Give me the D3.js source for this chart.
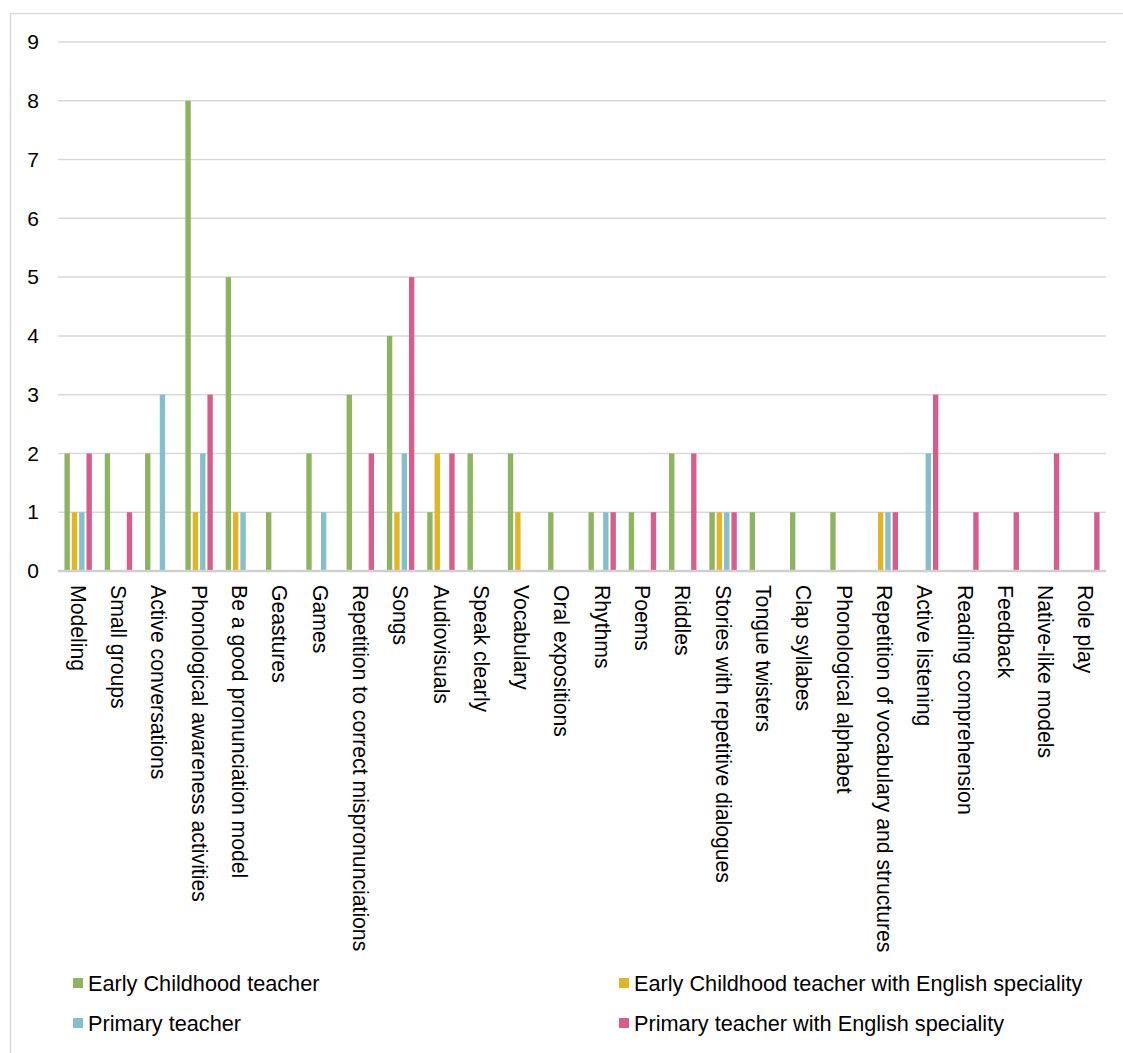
<!DOCTYPE html>
<html>
<head>
<meta charset="utf-8">
<script src="https://cdn.jsdelivr.net/npm/d3@7"></script>
<style>
  html, body { margin: 0; padding: 0; background: #fff; }
  svg { display: block; font-family: "Liberation Sans", Arial, sans-serif; }
</style>
</head>
<body>
<svg id="chart" width="1123" height="1053"></svg>
<script>
// Strategies mentioned by each teacher profile
const categories = [
  "Modeling", "Small groups", "Active conversations", "Phonological awareness activities",
  "Be a good pronunciation model", "Geastures", "Games", "Repetition to correct mispronunciations",
  "Songs", "Audiovisuals", "Speak clearly", "Vocabulary", "Oral expositions", "Rhythms", "Poems",
  "Riddles", "Stories with repetitive dialogues", "Tongue twisters", "Clap syllabes",
  "Phonological alphabet", "Repetition of vocabulary and structures", "Active listening",
  "Reading comprehension", "Feedback", "Native-like models", "Role play"
];

const seriesNames = [
  "Early Childhood teacher",
  "Early Childhood teacher with English speciality",
  "Primary teacher",
  "Primary teacher with English speciality"
];

const earlyChildhood        = [2, 2, 2, 8, 5, 1, 2, 3, 4, 1, 2, 2, 1, 1, 1, 2, 1, 1, 1, 1, 0, 0, 0, 0, 0, 0];
const earlyChildhoodEnglish = [1, 0, 0, 1, 1, 0, 0, 0, 1, 2, 0, 1, 0, 0, 0, 0, 1, 0, 0, 0, 1, 0, 0, 0, 0, 0];
const primary               = [1, 0, 3, 2, 1, 0, 1, 0, 2, 0, 0, 0, 0, 1, 0, 0, 1, 0, 0, 0, 1, 2, 0, 0, 0, 0];
const primaryEnglish        = [2, 1, 0, 3, 0, 0, 0, 2, 5, 2, 0, 0, 0, 1, 1, 2, 1, 0, 0, 0, 1, 3, 1, 1, 2, 1];

const yTicks = [0, 1, 2, 3, 4, 5, 6, 7, 8, 9];
const colors = ["#8fb461", "#e1b524", "#84bfcb", "#d55e8e"];

const seriesValues = [earlyChildhood, earlyChildhoodEnglish, primary, primaryEnglish];

const svg = d3.select("#chart");

// outer chart frame
svg.append("rect")
  .attr("x", 10.5).attr("y", 13.5)
  .attr("width", 1200).attr("height", 1100)
  .attr("fill", "none").attr("stroke", "#d9d9d9").attr("stroke-width", 1.5);

const plot = { left: 58, right: 1106, top: 42, bottom: 571 };

const x = d3.scaleBand()
  .domain(categories)
  .range([plot.left, plot.right])
  .paddingInner(0.32)
  .paddingOuter(0.16);

const xInner = d3.scaleBand()
  .domain(d3.range(seriesNames.length))
  .range([0, x.bandwidth()])
  .paddingInner(0.27);

const y = d3.scaleLinear()
  .domain([0, 9])
  .range([plot.bottom, plot.top]);

// gridlines
svg.append("g")
  .selectAll("line")
  .data(yTicks.filter(d => d > 0))
  .join("line")
  .attr("x1", plot.left).attr("x2", plot.right)
  .attr("y1", d => y(d)).attr("y2", d => y(d))
  .attr("stroke", "#d9d9d9").attr("stroke-width", 1.5);

// y axis tick labels
const yAxis = d3.axisLeft(y).tickValues(yTicks).tickSize(0).tickPadding(19).tickFormat(d3.format("d"));
const gy = svg.append("g").attr("transform", `translate(${plot.left},0)`).call(yAxis);
gy.select(".domain").remove();
gy.selectAll("text")
  .attr("font-size", 21)
  .attr("font-family", "Liberation Sans, Arial, sans-serif")
  .attr("fill", "#000");

// bars
const groups = svg.append("g")
  .selectAll("g")
  .data(categories.map((c, i) => ({ c, vals: seriesValues.map(s => s[i]) })))
  .join("g")
  .attr("transform", d => `translate(${x(d.c)},0)`);

groups.selectAll("rect")
  .data(d => d.vals.map((v, k) => ({ v, k })).filter(e => e.v > 0))
  .join("rect")
  .attr("x", e => xInner(e.k))
  .attr("width", xInner.bandwidth())
  .attr("y", e => y(e.v))
  .attr("height", e => y(0) - y(e.v))
  .attr("fill", e => colors[e.k]);

// x axis baseline and rotated category labels
const xAxis = d3.axisBottom(x).tickSize(0).tickPadding(0);
const gx = svg.append("g").attr("transform", `translate(0,${plot.bottom})`).call(xAxis);
gx.select(".domain")
  .attr("stroke", "#d0d0d0").attr("stroke-width", 2.5)
  .attr("d", `M${plot.left},0H${plot.right}`);
gx.selectAll("text")
  .attr("font-size", 21.2)
  .attr("font-family", "Liberation Sans, Arial, sans-serif")
  .attr("fill", "#000")
  .attr("text-anchor", "start")
  .attr("dy", "0.35em")
  .attr("transform", "translate(0,14) rotate(90)")
  .attr("y", 0).attr("x", 0);

// legend
const legendPos = [
  { x: 73, y: 983 }, { x: 619, y: 983 },
  { x: 73, y: 1023 }, { x: 619, y: 1023 }
];
const legend = svg.append("g")
  .selectAll("g")
  .data(seriesNames)
  .join("g")
  .attr("transform", (d, i) => `translate(${legendPos[i].x},${legendPos[i].y})`);
legend.append("rect")
  .attr("x", 0).attr("y", -5).attr("width", 10).attr("height", 10)
  .attr("fill", (d, i) => colors[i]);
legend.append("text")
  .attr("x", 15).attr("y", 0).attr("dy", "0.35em")
  .attr("font-size", 21.7)
  .attr("fill", "#000")
  .text(d => d);
</script>
</body>
</html>
